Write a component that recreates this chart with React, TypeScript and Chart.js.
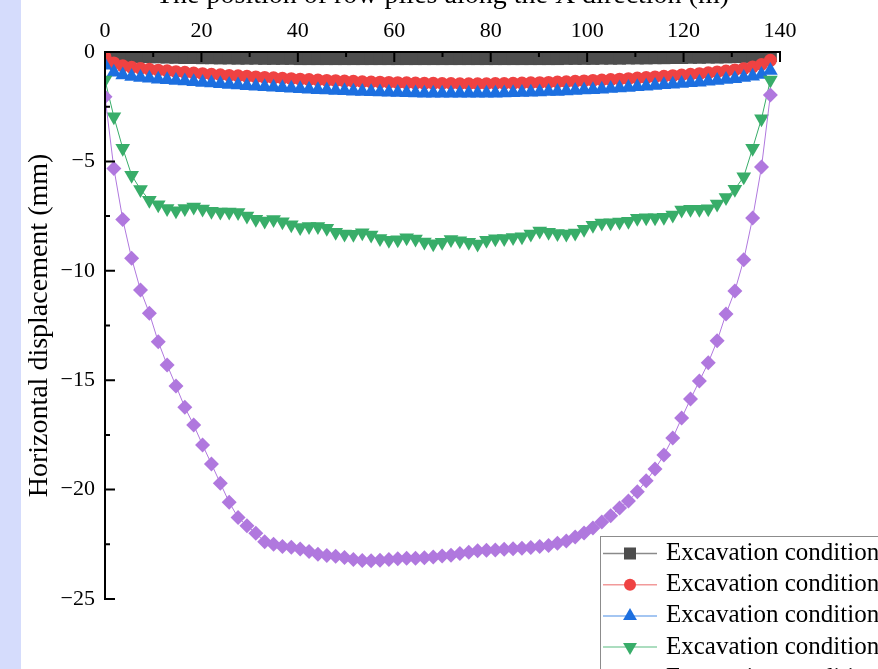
import React, { useEffect, useRef } from "react";
import { Chart, registerables } from "chart.js";

Chart.register(...registerables);

const FONT = '"Liberation Serif", "Times New Roman", serif';

// Pile positions along X (m)
const positions = [
  0, 1.84, 3.68, 5.52, 7.36, 9.2, 11.04, 12.88, 14.72, 16.56,
  18.4, 20.24, 22.08, 23.92, 25.76, 27.6, 29.44, 31.28, 33.12, 34.96,
  36.8, 38.64, 40.48, 42.32, 44.16, 46, 47.84, 49.68, 51.52, 53.36,
  55.2, 57.04, 58.88, 60.72, 62.56, 64.4, 66.24, 68.08, 69.92, 71.76,
  73.6, 75.44, 77.28, 79.12, 80.96, 82.8, 84.64, 86.48, 88.32, 90.16,
  92, 93.84, 95.68, 97.52, 99.36, 101.2, 103.04, 104.88, 106.72, 108.56,
  110.4, 112.24, 114.08, 115.92, 117.76, 119.6, 121.44, 123.28, 125.12, 126.96,
  128.8, 130.64, 132.48, 134.32, 136.16, 138,
];

const condition1 = [
  -0.12, -0.15, -0.17, -0.19, -0.2, -0.21, -0.22, -0.23, -0.24, -0.25,
  -0.25, -0.26, -0.26, -0.27, -0.27, -0.28, -0.28, -0.28, -0.29, -0.29,
  -0.29, -0.29, -0.3, -0.3, -0.3, -0.3, -0.3, -0.3, -0.3, -0.3,
  -0.3, -0.3, -0.3, -0.3, -0.3, -0.3, -0.3, -0.3, -0.3, -0.3,
  -0.3, -0.3, -0.3, -0.3, -0.3, -0.3, -0.3, -0.3, -0.3, -0.3,
  -0.3, -0.3, -0.29, -0.29, -0.29, -0.29, -0.28, -0.28, -0.28, -0.27,
  -0.27, -0.27, -0.26, -0.26, -0.25, -0.25, -0.24, -0.24, -0.23, -0.23,
  -0.22, -0.21, -0.2, -0.19, -0.18, -0.16,
];

const condition2 = [
  -0.22, -0.5, -0.63, -0.7, -0.75, -0.79, -0.83, -0.86, -0.9, -0.93,
  -0.96, -0.99, -1.02, -1.04, -1.07, -1.09, -1.11, -1.14, -1.16, -1.18,
  -1.2, -1.22, -1.24, -1.26, -1.28, -1.3, -1.31, -1.33, -1.34, -1.36,
  -1.37, -1.38, -1.39, -1.4, -1.41, -1.42, -1.43, -1.43, -1.44, -1.44,
  -1.45, -1.45, -1.45, -1.45, -1.44, -1.44, -1.43, -1.42, -1.41, -1.4,
  -1.39, -1.37, -1.36, -1.34, -1.32, -1.3, -1.28, -1.26, -1.24, -1.22,
  -1.19, -1.17, -1.14, -1.11, -1.08, -1.05, -1.02, -0.99, -0.95, -0.91,
  -0.87, -0.82, -0.76, -0.68, -0.57, -0.38,
];

const condition3 = [
  -0.6, -0.92, -1.05, -1.12, -1.16, -1.2, -1.24, -1.27, -1.3, -1.33,
  -1.36, -1.39, -1.42, -1.45, -1.48, -1.51, -1.54, -1.56, -1.59, -1.61,
  -1.63, -1.66, -1.68, -1.7, -1.72, -1.74, -1.76, -1.77, -1.79, -1.8,
  -1.82, -1.83, -1.84, -1.85, -1.86, -1.87, -1.88, -1.88, -1.89, -1.89,
  -1.89, -1.89, -1.89, -1.88, -1.88, -1.87, -1.86, -1.85, -1.84, -1.83,
  -1.81, -1.8, -1.78, -1.76, -1.74, -1.72, -1.7, -1.67, -1.65, -1.62,
  -1.59, -1.56, -1.53, -1.5, -1.47, -1.44, -1.41, -1.38, -1.34, -1.3,
  -1.26, -1.22, -1.17, -1.11, -1.03, -0.85,
];

const condition4 = [
  -1.28, -2.96, -4.4, -5.63, -6.28, -6.77, -6.98, -7.15, -7.25, -7.15,
  -7.08, -7.18, -7.28, -7.31, -7.31, -7.33, -7.5, -7.64, -7.72, -7.66,
  -7.76, -7.9, -8.02, -7.97, -7.98, -8.05, -8.24, -8.32, -8.33, -8.26,
  -8.36, -8.52, -8.6, -8.58, -8.49, -8.55, -8.68, -8.76, -8.7, -8.57,
  -8.63, -8.7, -8.78, -8.6, -8.53, -8.52, -8.48, -8.44, -8.32, -8.18,
  -8.24, -8.29, -8.32, -8.27, -8.1, -7.92, -7.82, -7.8, -7.77, -7.73,
  -7.6, -7.57, -7.57, -7.55, -7.45, -7.22, -7.19, -7.19, -7.16, -6.95,
  -6.65, -6.27, -5.7, -4.4, -3.05, -1.28,
];

const condition5 = [
  -2.04, -5.32, -7.65, -9.43, -10.88, -11.94, -13.24, -14.3, -15.26, -16.24,
  -17.05, -17.96, -18.83, -19.71, -20.58, -21.28, -21.65, -22.0, -22.38, -22.5,
  -22.6, -22.63, -22.71, -22.83, -22.96, -23.01, -23.05, -23.1, -23.2, -23.24,
  -23.25, -23.23, -23.2, -23.16, -23.14, -23.14, -23.12, -23.08, -23.03, -23.0,
  -22.92, -22.86, -22.8, -22.77, -22.76, -22.73, -22.7, -22.68, -22.65, -22.6,
  -22.55, -22.45, -22.35, -22.17, -21.98, -21.75, -21.48, -21.2, -20.84, -20.52,
  -20.1, -19.6, -19.06, -18.42, -17.64, -16.73, -15.86, -15.04, -14.2, -13.2,
  -11.97, -10.92, -9.5, -7.59, -5.26, -1.97,
];

const seriesNames = [
  "Excavation condition 1",
  "Excavation condition 2",
  "Excavation condition 3",
  "Excavation condition 4",
  "Excavation condition 5",
];

const xTicks = [0, 20, 40, 60, 80, 100, 120, 140];
const xMinorTicks = [10, 30, 50, 70, 90, 110, 130];
const yTicks = [0, -5, -10, -15, -20, -25];
const yMinorTicks = [-2.5, -7.5, -12.5, -17.5, -22.5];

const xTitle = "The position of row piles along the X direction (m)";
const yTitle = "Horizontal displacement (mm)";

type Style = { color: string; legendLine: string; shape: string; radius: number; rotation: number };
const styles: Style[] = [
  { color: "#4d4d4d", legendLine: "#8a8a8a", shape: "rect", radius: 9.2, rotation: 0 },
  { color: "#ef4242", legendLine: "#f29a9a", shape: "circle", radius: 6.5, rotation: 0 },
  { color: "#1c6fe0", legendLine: "#86b3ee", shape: "triangle", radius: 8.5, rotation: 0 },
  { color: "#38ad69", legendLine: "#8fd2aa", shape: "triangle", radius: 8.5, rotation: 180 },
  { color: "#b078de", legendLine: "#b078de", shape: "rectRot", radius: 7.5, rotation: 0 },
];

const OFFSET_Y = 30;

function drawMarker(ctx: CanvasRenderingContext2D, s: Style, cx: number, cy: number) {
  ctx.fillStyle = s.color;
  ctx.beginPath();
  if (s.shape === "rect") {
    const h = s.radius * Math.SQRT1_2;
    ctx.rect(cx - h, cy - h, 2 * h, 2 * h);
  } else if (s.shape === "circle") {
    ctx.arc(cx, cy, s.radius, 0, Math.PI * 2);
  } else if (s.shape === "triangle") {
    const r = s.radius;
    const dir = s.rotation === 180 ? -1 : 1;
    ctx.moveTo(cx, cy - dir * r);
    ctx.lineTo(cx + r * Math.sin((2 * Math.PI) / 3), cy + dir * r * 0.5);
    ctx.lineTo(cx - r * Math.sin((2 * Math.PI) / 3), cy + dir * r * 0.5);
    ctx.closePath();
  } else {
    const r = s.radius;
    ctx.moveTo(cx - r, cy);
    ctx.lineTo(cx, cy - r);
    ctx.lineTo(cx + r, cy);
    ctx.lineTo(cx, cy + r);
    ctx.closePath();
  }
  ctx.fill();
}

export default function App() {
  const ref = useRef<HTMLCanvasElement>(null);

  useEffect(() => {
    const canvas = ref.current;
    if (!canvas) return;
    const all = [condition1, condition2, condition3, condition4, condition5];

    const axesPlugin = {
      id: "frameAxes",
      afterDatasetsDraw(chart: any) {
        const { ctx, chartArea: a, scales } = chart;
        const xs = scales.x;
        const ys = scales.y;
        ctx.save();
        ctx.strokeStyle = "#000";
        ctx.lineWidth = 2;
        ctx.beginPath();
        ctx.moveTo(a.left - 1, a.top);
        ctx.lineTo(a.right + 1, a.top);
        ctx.moveTo(a.left, a.top);
        ctx.lineTo(a.left, a.bottom + 1);
        ctx.stroke();
        ctx.lineWidth = 2;
        ctx.beginPath();
        xTicks.forEach((v) => {
          const p = xs.getPixelForValue(v);
          ctx.moveTo(p, a.top);
          ctx.lineTo(p, a.top + 10);
        });
        xMinorTicks.forEach((v) => {
          const p = xs.getPixelForValue(v);
          ctx.moveTo(p, a.top);
          ctx.lineTo(p, a.top + 5);
        });
        yTicks.forEach((v) => {
          const p = ys.getPixelForValue(v);
          ctx.moveTo(a.left, p);
          ctx.lineTo(a.left + 10, p);
        });
        yMinorTicks.forEach((v) => {
          const p = ys.getPixelForValue(v);
          ctx.moveTo(a.left, p);
          ctx.lineTo(a.left + 5, p);
        });
        ctx.stroke();
        ctx.restore();
      },
    };

    const legendPlugin = {
      id: "boxLegend",
      afterDraw(chart: any) {
        const ctx: CanvasRenderingContext2D = chart.ctx;
        const boxX = 600;
        const boxY = 536 + OFFSET_Y;
        ctx.save();
        ctx.fillStyle = "#fff";
        ctx.fillRect(boxX, boxY, 420, 260);
        ctx.strokeStyle = "#8c8c8c";
        ctx.lineWidth = 1;
        ctx.strokeRect(boxX + 0.5, boxY + 0.5, 420, 260);
        seriesNames.forEach((name, i) => {
          const s = styles[i];
          const cy = 553.5 + OFFSET_Y + i * 31.2;
          ctx.strokeStyle = s.legendLine;
          ctx.lineWidth = 1.5;
          ctx.beginPath();
          ctx.moveTo(603, cy);
          ctx.lineTo(657, cy);
          ctx.stroke();
          drawMarker(ctx, { ...s, radius: s.shape === "rect" ? 8.5 : s.radius - 0.5 }, 630, cy);
          ctx.fillStyle = "#000";
          ctx.font = `25px ${FONT}`;
          ctx.textBaseline = "middle";
          ctx.textAlign = "left";
          ctx.fillText(name, 666, cy);
        });
        ctx.restore();
      },
    };

    const order = [4, 3, 2, 1, 0];
    const chart = new Chart(canvas, {
      type: "line",
      data: {
        datasets: all.map((vals, i) => ({
          label: seriesNames[i],
          data: vals.map((y, k) => ({ x: positions[k], y })),
          borderColor: styles[i].color,
          backgroundColor: styles[i].color,
          borderWidth: 1,
          pointStyle: styles[i].shape as any,
          pointRadius: styles[i].radius,
          pointRotation: styles[i].rotation,
          pointBackgroundColor: styles[i].color,
          pointBorderWidth: 0,
          tension: 0,
          fill: false,
          order: order[i],
        })),
      },
      options: {
        responsive: false,
        animation: false,
        devicePixelRatio: 1,
        layout: { padding: { left: 0, right: 220, top: 0, bottom: 131 } },
        plugins: { legend: { display: false }, tooltip: { enabled: false } },
        scales: {
          x: {
            type: "linear",
            position: "top",
            min: 0,
            max: 140,
            afterBuildTicks: (s: any) => {
              s.ticks = xTicks.map((v) => ({ value: v }));
            },
            afterFit: (s: any) => {
              s.height = 82;
            },
            grid: { display: false, drawTicks: false },
            border: { display: false },
            ticks: {
              font: { family: FONT, size: 22 },
              color: "#000",
              padding: 8,
              maxRotation: 0,
              autoSkip: false,
              callback: (v: any) => String(v),
            },
            title: {
              display: true,
              text: xTitle,
              font: { family: FONT, size: 28 },
              color: "#000",
              padding: { top: 9, bottom: 0 },
            },
          },
          y: {
            type: "linear",
            position: "left",
            min: -25,
            max: 0,
            afterBuildTicks: (s: any) => {
              s.ticks = yTicks.map((v) => ({ value: v }));
            },
            afterFit: (s: any) => {
              s.width = 105;
            },
            grid: { display: false, drawTicks: false },
            border: { display: false },
            ticks: {
              font: { family: FONT, size: 22 },
              color: "#000",
              padding: 10,
              autoSkip: false,
              callback: (v: any) => (Number(v) === 0 ? "0" : "\u2212" + Math.abs(Number(v))),
            },
            title: {
              display: true,
              text: yTitle,
              font: { family: FONT, size: 28 },
              color: "#000",
              padding: { top: 23, bottom: 0 },
            },
          },
        },
      },
      plugins: [axesPlugin, legendPlugin],
    });
    return () => chart.destroy();
  }, []);

  return (
    <div
      style={{
        position: "fixed",
        left: 0,
        top: 0,
        width: 878,
        height: 669,
        overflow: "hidden",
        background: "#fff",
      }}
    >
      <div style={{ position: "absolute", left: 0, top: 0, width: 21, height: 669, background: "#d5dcfc" }} />
      <canvas
        ref={ref}
        width={1000}
        height={760}
        style={{ position: "absolute", left: 0, top: -OFFSET_Y, width: 1000, height: 760 }}
      />
    </div>
  );
}
